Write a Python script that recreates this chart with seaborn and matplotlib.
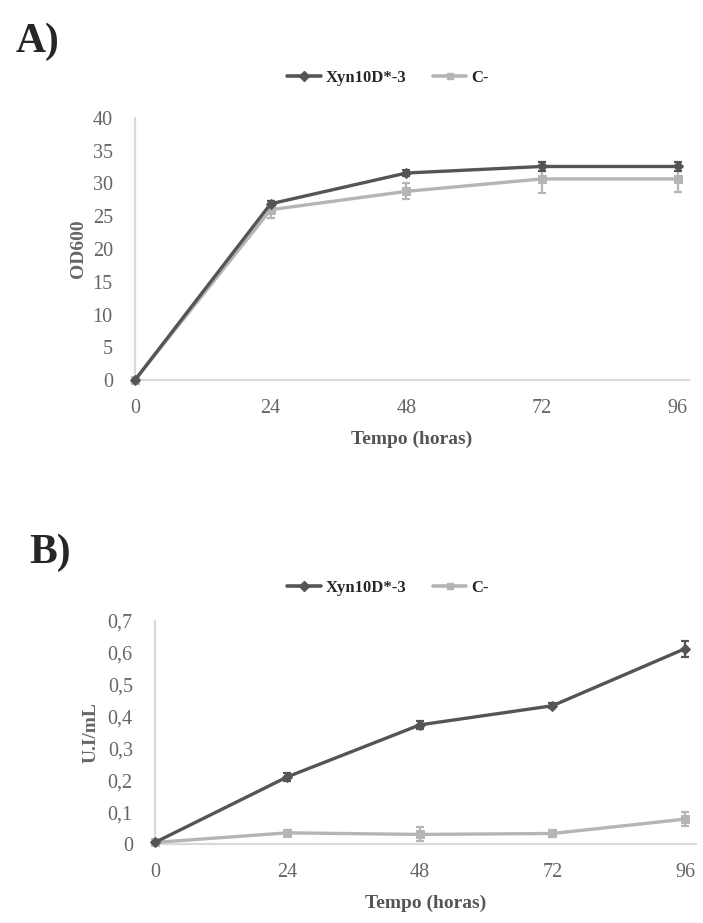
import matplotlib
matplotlib.use("Agg")
import matplotlib.pyplot as plt
import seaborn as sns
import pandas as pd
from matplotlib.lines import Line2D

# ---- data ----
hours = [0, 24, 48, 72, 96]
series_names = ["Xyn10D*-3", "C-"]

a_xyn = [0.0, 26.9, 31.6, 32.6, 32.6]
a_xyn_err = [0.0, 0.5, 0.5, 0.7, 0.7]
a_ctrl = [0.0, 26.0, 28.8, 30.7, 30.7]
a_ctrl_err = [0.0, 1.3, 1.2, 2.1, 2.0]

b_xyn = [0.005, 0.211, 0.374, 0.434, 0.613]
b_xyn_err = [0.0, 0.012, 0.012, 0.008, 0.025]
b_ctrl = [0.005, 0.035, 0.030, 0.033, 0.078]
b_ctrl_err = [0.0, 0.010, 0.022, 0.012, 0.022]

a_yticks = [0, 5, 10, 15, 20, 25, 30, 35, 40]
a_yticklabels = ["0", "5", "10", "15", "20", "25", "30", "35", "40"]
b_yticks = [0, 0.1, 0.2, 0.3, 0.4, 0.5, 0.6, 0.7]
b_yticklabels = ["0", "0,1", "0,2", "0,3", "0,4", "0,5", "0,6", "0,7"]
xticklabels = ["0", "24", "48", "72", "96"]

# ---- style ----
sns.set_style("white")
plt.rcParams["font.family"] = ["Liberation Serif", "DejaVu Serif"]

DARK = "#555555"
LIGHT = "#b5b5b5"
AXIS = "#d9d9d9"
TICK = "#666666"
palette = {"Xyn10D*-3": DARK, "C-": LIGHT}
markers = {"Xyn10D*-3": "D", "C-": "s"}

W, H = 703, 923
fig = plt.figure(figsize=(W / 100, H / 100), dpi=100)


def make_df(v1, e1, v2, e2):
    rows = []
    for name, vals, errs in ((series_names[0], v1, e1), (series_names[1], v2, e2)):
        for h, v, e in zip(hours, vals, errs):
            rows.append({"h": h, "v": v, "e": e, "serie": name})
    return pd.DataFrame(rows)


def draw(ax, df, ylim, yticks, yticklabels, ylabel, ypad):
    for name in ["C-", "Xyn10D*-3"]:
        sub = df[df["serie"] == name]
        ax.errorbar(sub["h"], sub["v"], yerr=sub["e"], fmt="none",
                    ecolor=palette[name], elinewidth=1.6, capsize=3,
                    capthick=1.6, zorder=3, clip_on=False)
        sns.lineplot(data=sub, x="h", y="v", ax=ax, color=palette[name],
                     marker=markers[name], markersize=5.5,
                     markeredgecolor=palette[name], linewidth=2.4,
                     legend=False, zorder=4, clip_on=False)
    ax.set_xlim(0, 98)
    ax.set_ylim(*ylim)
    ax.set_xticks(hours)
    ax.set_xticklabels(xticklabels)
    ax.set_yticks(yticks)
    ax.set_yticklabels(yticklabels)
    ax.tick_params(axis="both", length=0, labelsize=14.5, colors=TICK)
    ax.tick_params(axis="x", pad=14)
    ax.tick_params(axis="y", pad=16)
    for s in ["top", "right"]:
        ax.spines[s].set_visible(False)
    for s in ["left", "bottom"]:
        ax.spines[s].set_color(AXIS)
        ax.spines[s].set_linewidth(1.6)
    ax.set_xlabel("Tempo (horas)", fontsize=14, fontweight="bold",
                  color="#555555", labelpad=9)
    ax.set_ylabel(ylabel, fontsize=14, fontweight="bold", color="#666666",
                  labelpad=ypad)
    ax.grid(False)


def fig_ax(left_px, right_px, top_px, bottom_px):
    return fig.add_axes([left_px / W, 1 - bottom_px / H,
                         (right_px - left_px) / W, (bottom_px - top_px) / H])


axA = fig_ax(135, 689, 118, 380)
draw(axA, make_df(a_xyn, a_xyn_err, a_ctrl, a_ctrl_err), (0, 40),
     a_yticks, a_yticklabels, "OD600", 4)

axB = fig_ax(155, 696, 621, 844)
draw(axB, make_df(b_xyn, b_xyn_err, b_ctrl, b_ctrl_err), (0, 0.7),
     b_yticks, b_yticklabels, "U.I/mL", 6)

handles = [Line2D([], [], color=palette[n], marker=markers[n], markersize=5,
                  linewidth=2.6) for n in series_names]
for y_px in (78, 588):
    fig.legend(handles, series_names, loc="center",
               bbox_to_anchor=(388 / W, 1 - y_px / H),
               ncol=2, frameon=False, handlelength=2.0,
               handletextpad=0.3, columnspacing=1.6,
               prop={"size": 12, "weight": "bold"})

fig.text(38 / W, 1 - 42 / H, "A)", fontsize=30, fontweight="bold",
         ha="center", va="center")
fig.text(50 / W, 1 - 553 / H, "B)", fontsize=30, fontweight="bold",
         ha="center", va="center")

fig.savefig("out.png", dpi=100)
